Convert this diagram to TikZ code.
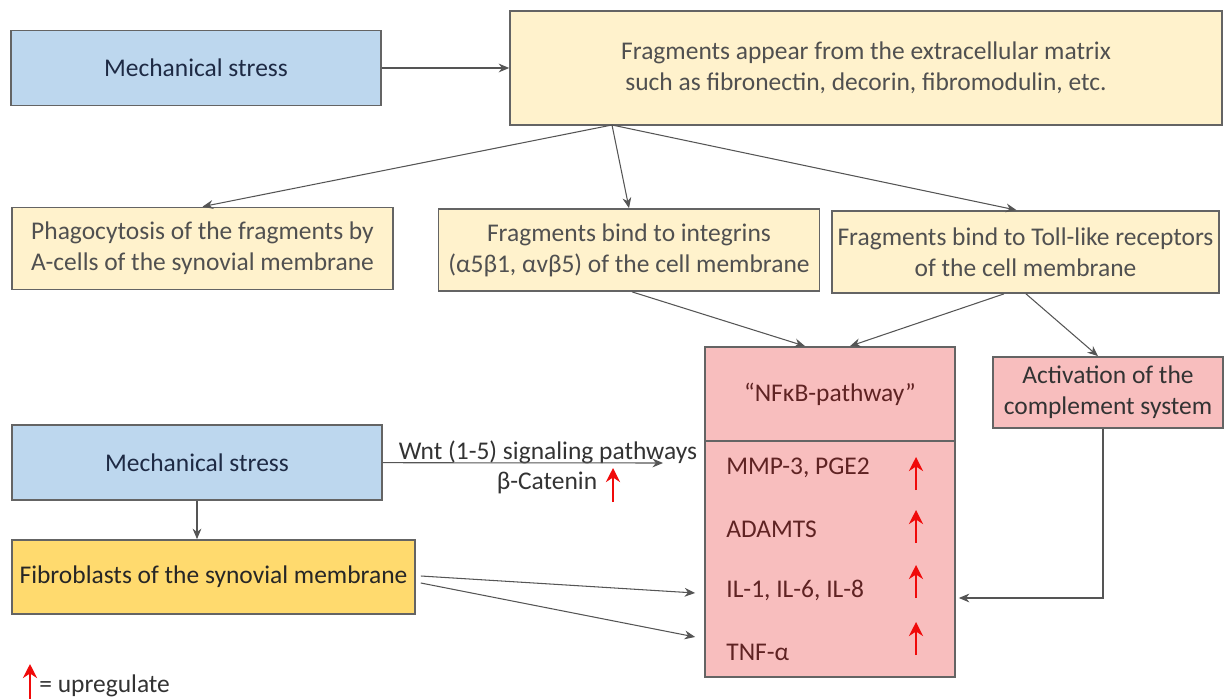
\documentclass[tikz,border=0pt]{standalone}
\usepackage{fontspec}
\setmainfont{Carlito}
\usepackage{tikz}
\usetikzlibrary{arrows.meta, positioning, calc}
\definecolor{stressblue}{RGB}{189, 215, 238}
\definecolor{matrixcream}{RGB}{255, 242, 204}
\definecolor{pathpink}{RGB}{248, 190, 190}
\definecolor{fibrogold}{RGB}{255, 218, 110}
\definecolor{boxline}{RGB}{100, 100, 100}
\definecolor{linegray}{RGB}{85, 85, 85}
\definecolor{navytext}{RGB}{30, 42, 68}
\definecolor{graytext}{RGB}{80, 80, 80}
\definecolor{redtext}{RGB}{95, 35, 35}
\definecolor{upred}{RGB}{240, 10, 10}
\tikzstyle{stressbox} = [rectangle, draw=boxline, line width=1pt, fill=stressblue, text=navytext, minimum width=7.4cm, minimum height=1.5cm]
\tikzstyle{matrixbox} = [rectangle, draw=boxline, line width=1pt, fill=matrixcream, text=graytext, align=center, minimum width=7.62cm, minimum height=1.64cm]
\tikzstyle{pathbox} = [rectangle, draw=boxline, line width=1pt, fill=pathpink, text=redtext, align=center, minimum width=5cm]
\tikzstyle{fibrobox} = [rectangle, draw=boxline, line width=1pt, fill=fibrogold, text=black!85, minimum width=8.06cm, minimum height=1.48cm]
\tikzstyle{rowtext} = [anchor=west, text=redtext, inner sep=0pt]
\tikzstyle{arrow} = [line width=0.6pt, draw=linegray, -{Stealth[length=6pt, width=5pt]}]
\tikzstyle{uparrow} = [line width=1.6pt, draw=upred, -{Stealth[length=8pt, width=8pt]}]

\begin{document}
\begin{tikzpicture}[x=0.02cm, y=-0.02cm, font=\fontsize{14.5pt}{17.5pt}\selectfont]
\useasboundingbox (0,0) rectangle (1227,699);

\node (stress) [stressbox] at (196,68) {Mechanical stress};
\node (frag) [matrixbox, minimum width=14.24cm, minimum height=2.28cm] at (866,68) {Fragments appear from the extracellular matrix\\ such as fibronectin, decorin, fibromodulin, etc.};
\node (phago) [matrixbox] at (202.5,248.5) {Phagocytosis of the fragments by\\A-cells of the synovial membrane};
\node (integ) [matrixbox] at (629,250) {Fragments bind to integrins\\(α5β1, αvβ5) of the cell membrane};
\node (toll) [matrixbox] at (1025.5,252) {Fragments bind to Toll-like receptors\\of the cell membrane};
\node (nfhead) [pathbox, minimum height=1.88cm] at (830,394) {“NFκB-pathway”};
\node (nfbody) [pathbox, minimum height=4.72cm] at (830,559) {};
\node (compl) [pathbox, minimum width=4.6cm, minimum height=1.42cm, text=black!80] at (1108,392.5) {Activation of the\\complement system};
\node (stress2) [stressbox] at (197,462.5) {Mechanical stress};
\node (fibro) [fibrobox] at (213.5,577) {Fibroblasts of the synovial membrane};

% rows of the pathway box
\node (mmp) [rowtext] at (726,468) {MMP-3, PGE2};
\node (adamts) [rowtext] at (726,529) {ADAMTS};
\node (il) [rowtext] at (726,590) {IL-1, IL-6, IL-8};
\node (tnf) [rowtext] at (726,652) {TNF-α};
\foreach \y in {490, 543, 598, 655}
  \draw [uparrow] (916,\y) -- ++(0,-33);

% Wnt labels
\node (wnt) [text=black!80] at (548,452) {Wnt (1-5) signaling pathways};
\node (catenin) [text=black!80] at (547,483) {β-Catenin};
\draw [uparrow] (613,502) -- (613,468);
\coordinate (wntend) at (663,463);
\coordinate (fragout) at (612,125);

% Arrows
\draw [arrow] (stress) -- (frag);
\draw [arrow] (fragout) -- (phago.north);
\draw [arrow] (fragout) -- (integ.north);
\draw [arrow] (fragout) -- ([xshift=-0.18cm]toll.north);
\draw [arrow] ([xshift=0.06cm]integ.south) -- ([xshift=-0.5cm]nfhead.north);
\draw [arrow] ([xshift=-0.43cm]toll.south) -- ([xshift=0.4cm]nfhead.north);
\draw [arrow] ([xshift=0.01cm]toll.south) -- ([xshift=-0.2cm]compl.north);
\draw [arrow] ([xshift=-0.1cm]compl.south) |- ([xshift=0.06cm,yshift=-0.78cm]nfbody.east);
\draw [arrow] (stress2) -- (wntend);
\draw [arrow] (stress2) -- (stress2.south |- fibro.north);
\draw [arrow] ([xshift=0.1cm,yshift=0.02cm]fibro.east) -- ([xshift=-0.18cm,yshift=-0.68cm]nfbody.west);
\draw [arrow] ([xshift=0.1cm,yshift=-0.12cm]fibro.east) -- ([xshift=-0.18cm,yshift=-1.56cm]nfbody.west);

% legend
\draw [uparrow] (30,699) -- (30,664);
\node (legend) [anchor=west, text=black!80, inner sep=0pt] at (39,686) {= upregulate};

\end{tikzpicture}
\end{document}
